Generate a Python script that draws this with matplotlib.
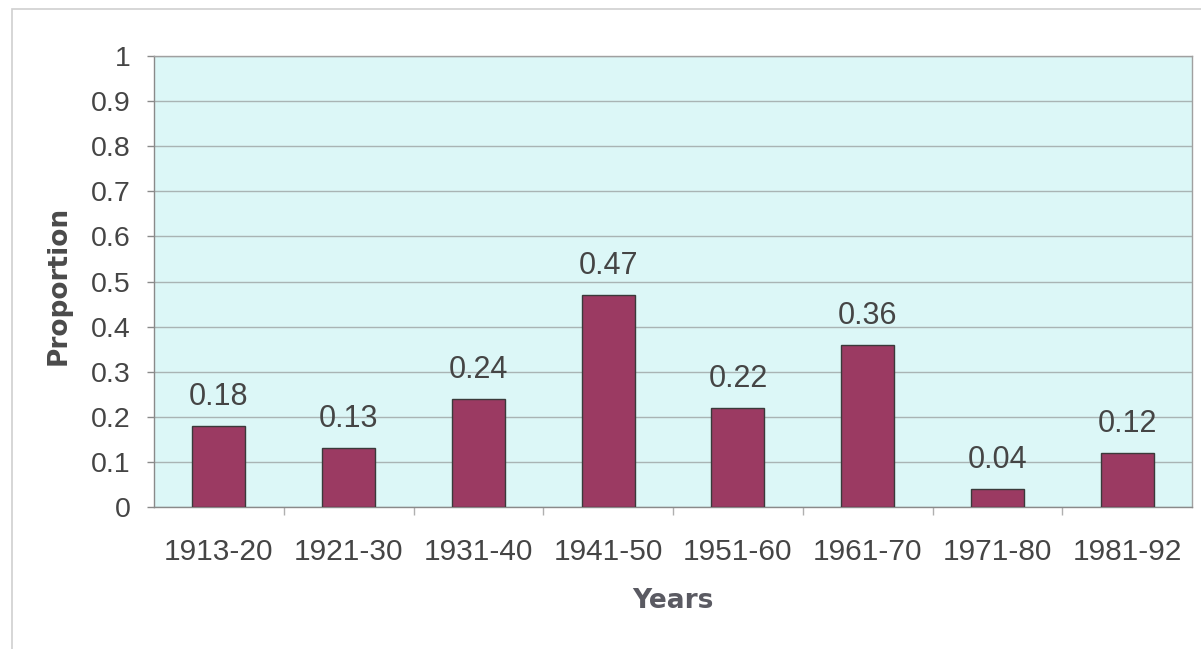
import matplotlib
matplotlib.use("Agg")
import matplotlib.pyplot as plt
from matplotlib.patches import Rectangle
import numpy as np

periods = ["1913-20", "1921-30", "1931-40", "1941-50",
           "1951-60", "1961-70", "1971-80", "1981-92"]
proportions = [0.18, 0.13, 0.24, 0.47, 0.22, 0.36, 0.04, 0.12]
y_ticks = [0, 0.1, 0.2, 0.3, 0.4, 0.5, 0.6, 0.7, 0.8, 0.9, 1]
y_tick_labels = ["0", "0.1", "0.2", "0.3", "0.4", "0.5",
                 "0.6", "0.7", "0.8", "0.9", "1"]

W, H = 1201, 649
fig = plt.figure(figsize=(W / 100, H / 100), dpi=100)
fig.patch.set_facecolor("white")

# light frame around the chart area
fig.patches.append(Rectangle((12 / W, -0.05), 1.2, 1 - 9 / H + 0.05,
                             transform=fig.transFigure, fill=False,
                             edgecolor="#cfcfcf", linewidth=1.2))

ax = fig.add_axes([154 / W, 1 - 507 / H, (1192 - 154) / W, (507 - 56) / H])
ax.set_facecolor("#dcf7f7")

text_color = "#454545"
font = "Liberation Sans"

x = np.arange(len(periods))
bars = ax.bar(x, proportions, width=0.41, color="#9b3a62",
              edgecolor="#3a3a3a", linewidth=1.0, zorder=3)

for rect, v in zip(bars, proportions):
    ax.annotate(f"{v:.2f}", (rect.get_x() + rect.get_width() / 2, v),
                xytext=(0, 10), textcoords="offset points",
                ha="center", va="bottom", fontsize=22, color=text_color,
                family=font)

ax.set_xlim(-0.5, len(periods) - 0.5)
ax.set_ylim(0, 1)

ax.set_yticks(y_ticks)
ax.set_yticklabels(y_tick_labels, fontsize=20.5, color=text_color, family=font)
ax.yaxis.grid(True, color="#a9b4b4", linewidth=1.0, zorder=0)
ax.tick_params(axis="y", length=5, width=1, color="#8a8a8a", pad=12)

ax.set_xticks(x)
ax.set_xticklabels(periods, fontsize=21.5, color=text_color, family=font)
ax.tick_params(axis="x", which="major", length=0, pad=22)
ax.set_xticks(np.arange(0.5, len(periods) - 0.5, 1.0), minor=True)
ax.tick_params(axis="x", which="minor", length=6, width=1, color="#b0b0b0")

for side in ("top", "right"):
    ax.spines[side].set_color("#a0a0a0")
ax.spines["left"].set_color("#8a8a8a")
ax.spines["bottom"].set_color("#8a8a8a")
for s in ax.spines.values():
    s.set_linewidth(1.0)

ax.set_xlabel("Years", fontsize=19, fontweight="bold", color="#5a5a62",
              family="DejaVu Sans", labelpad=16)
fig.text(59 / W, 1 - 285 / H, "Proportion", rotation=90, ha="center",
         va="center", fontsize=19, fontweight="bold", color="#4a4a4a",
         family="DejaVu Sans")

fig.savefig("out.png", dpi=100, facecolor="white")
